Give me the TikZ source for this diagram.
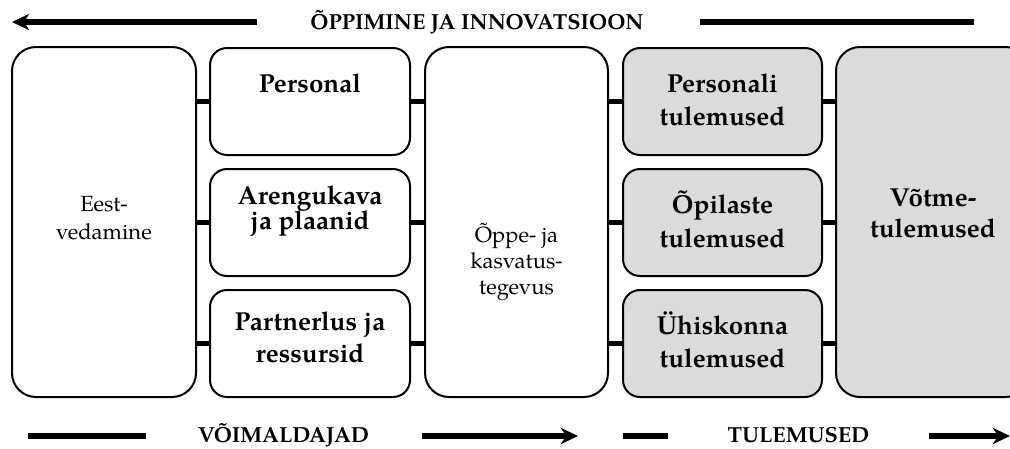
\documentclass[tikz,border=0pt]{standalone}
\usepackage{fontspec}
\setmainfont{texgyrepagella}[Extension=.otf, UprightFont=*-regular, BoldFont=*-bold, ItalicFont=*-italic, BoldItalicFont=*-bolditalic]
\usetikzlibrary{arrows.meta}
\definecolor{boxgray}{RGB}{219,219,219}
\tikzset{
  bigbox/.style={draw, line width=2pt, rounded corners=24pt, inner sep=0pt, minimum width=#1, minimum height=350pt},
  smallbox/.style={draw, line width=2pt, rounded corners=17pt, inner sep=0pt, minimum width=#1, minimum height=107pt},
  outbox/.style={fill=boxgray},
  conn/.style={line width=5.5pt},
  bar/.style={line width=6pt},
  bararrow/.style={line width=6pt, -{Stealth[length=17pt, width=16pt, inset=5pt]}},
  bl/.style={font=\fontsize{26}{30}\selectfont\bfseries, anchor=base, inner sep=0pt},
  rl/.style={font=\fontsize{22}{26}\selectfont, anchor=base, inner sep=0pt},
  tl/.style={font=\fontsize{21.8}{25}\selectfont\bfseries, anchor=base, inner sep=0pt}
}
\begin{document}
\begin{tikzpicture}[x=1pt,y=-1pt]
\useasboundingbox (0,0) rectangle (1010,448);
\clip (0,0) rectangle (1010,448);

% boxes
\node[bigbox=184pt] (lead) at (104,222) {};
\node[smallbox=200pt] (p1) at (310,101.5) {};
\node[smallbox=200pt] (p2) at (310,222.5) {};
\node[smallbox=200pt] (p3) at (310,343.5) {};
\node[bigbox=183pt] (mid) at (516.5,222) {};
\node[smallbox=199pt, outbox] (r1) at (722.5,101.5) {};
\node[smallbox=199pt, outbox] (r2) at (722.5,222.5) {};
\node[smallbox=199pt, outbox] (r3) at (722.5,343.5) {};
\node[bigbox=194pt, outbox] (key) at (933,222) {};

% connectors
\foreach \n in {p1,p2,p3}{
  \draw[conn] (\n.west -| lead.east) -- (\n.west);
  \draw[conn] (\n.east) -- (\n.east -| mid.west);
}
\foreach \n in {r1,r2,r3}{
  \draw[conn] (\n.west -| mid.east) -- (\n.west);
  \draw[conn] (\n.east) -- (\n.east -| key.west);
}

% texts
\node[rl] (t1a) at (104,211) {Eest-};
\node[rl] (t1b) at (104,239) {vedamine};
\node[bl] (t2a) at (310,92) {Personal};
\node[bl] (t3a) at (310,204) {Arengukava};
\node[bl] (t3b) at (310,229) {ja plaanid};
\node[bl] (t4a) at (310,330) {Partnerlus ja};
\node[bl] (t4b) at (310,362) {ressursid};
\node[rl] (t5a) at (516.5,242) {Õppe- ja};
\node[rl] (t5b) at (516.5,268) {kasvatus-};
\node[rl] (t5c) at (516.5,294) {tegevus};
\node[bl] (t6a) at (722.5,92) {Personali};
\node[bl] (t6b) at (722.5,125) {tulemused};
\node[bl] (t7a) at (722.5,213) {Õpilaste};
\node[bl] (t7b) at (722.5,247) {tulemused};
\node[bl] (t8a) at (722.5,334) {Ühiskonna};
\node[bl] (t8b) at (722.5,367) {tulemused};
\node[bl] (t9a) at (933,206) {Võtme-};
\node[bl] (t9b) at (933,237) {tulemused};

% top banner
\coordinate (ta0) at (12,22);
\coordinate (ta1) at (257,22);
\coordinate (tb0) at (700,22);
\coordinate (tb1) at (974,22);
\draw[bararrow] (ta1) -- (ta0);
\draw[bar] (tb0) -- (tb1);
\node[tl] (ttop) at (477,29) {ÕPPIMINE JA INNOVATSIOON};

% bottom banner
\coordinate (ba0) at (28,436);
\coordinate (ba1) at (146,436);
\coordinate (bb0) at (422,436);
\coordinate (bb1) at (578,436);
\coordinate (bc0) at (623,436);
\coordinate (bc1) at (668,436);
\coordinate (bd0) at (929,436);
\coordinate (bd1) at (1010,436);
\draw[bar] (ba0) -- (ba1);
\draw[bararrow] (bb0) -- (bb1);
\draw[bar] (bc0) -- (bc1);
\draw[bararrow] (bd0) -- (bd1);
\node[tl] (tbl) at (283.5,442) {VÕIMALDAJAD};
\node[tl] (tbr) at (798.5,442) {TULEMUSED};
\end{tikzpicture}
\end{document}
